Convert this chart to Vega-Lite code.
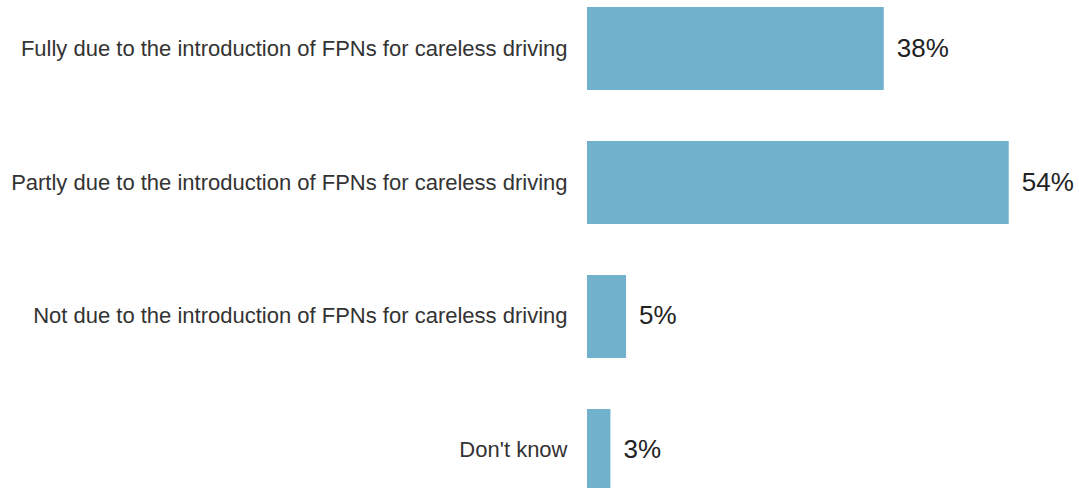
{
  "$schema": "https://vega.github.io/schema/vega-lite/v6.json",
  "autosize": "none",
  "padding": {"left": 587, "top": 0, "right": 0, "bottom": 0},
  "width": 492,
  "height": 499,
  "background": "white",
  "config": {"view": {"stroke": null}, "font": "Liberation Sans"},
  "data": {"values": [
    {"answer": "Fully due to the introduction of FPNs for careless driving", "share": 0.38},
    {"answer": "Partly due to the introduction of FPNs for careless driving", "share": 0.54},
    {"answer": "Not due to the introduction of FPNs for careless driving", "share": 0.05},
    {"answer": "Don't know", "share": 0.03}
  ]},
  "encoding": {
    "y": {"field": "answer", "type": "nominal", "sort": null,
      "scale": {"paddingInner": 0.38, "paddingOuter": 0.052},
      "axis": {"title": null, "ticks": false, "domain": false, "labelPadding": 20, "labelFontSize": 22, "labelColor": "#333333", "labelLimit": 700, "labelFont": "Liberation Sans"}},
    "x": {"field": "share", "type": "quantitative", "scale": {"domain": [0, 0.63]}, "axis": null}
  },
  "layer": [
    {"mark": {"type": "bar", "color": "#72B1CB"}},
    {"mark": {"type": "text", "align": "left", "dx": 13, "fontSize": 26, "color": "#222222", "font": "Liberation Sans"},
     "encoding": {"text": {"field": "share", "type": "quantitative", "format": ".0%"}}}
  ]
}
